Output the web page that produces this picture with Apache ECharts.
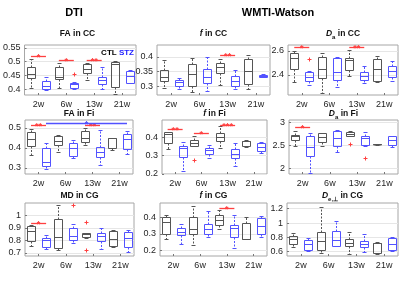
<!DOCTYPE html>
<html>
<head>
<meta charset="utf-8">
<script src="https://cdn.jsdelivr.net/npm/echarts@6/dist/echarts.min.js"></script>
<style>
  html, body { margin: 0; padding: 0; background: #fff; }
  #chart { width: 400px; height: 285px; }
</style>
</head>
<body>
<div id="chart"></div>
<script>
const weeks = ['2w', '6w', '13w', '21w'];

// boxes are [min, q1, median, q3, max] per week; outliers [week, value]; sig [week, y, stars]
const faCC_ctl = [[0.405, 0.44, 0.455, 0.48, 0.51], [0.405, 0.437, 0.445, 0.48, 0.495], [0.435, 0.458, 0.474, 0.49, 0.495], [0.385, 0.41, 0.49, 0.5, 0.502]];
const faCC_stz = [[0.398, 0.40, 0.413, 0.43, 0.445], [0.40, 0.407, 0.418, 0.424, 0.428], [0.40, 0.42, 0.433, 0.445, 0.48], [0.423, 0.425, 0.447, 0.468, 0.47]];
const faCC_outStz = [[1, 0.455]];
const faCC_sig = [[0, 0.52, '*'], [1, 0.505, '*'], [2, 0.505, '**']];
const faCC_ticks = [0.4, 0.45, 0.5, 0.55];
const faCC_range = [0.38, 0.56];

const fCC_ctl = [[0.293, 0.318, 0.332, 0.355, 0.39], [0.28, 0.3, 0.34, 0.375, 0.395], [0.304, 0.344, 0.366, 0.38, 0.393], [0.29, 0.308, 0.35, 0.394, 0.407]];
const fCC_stz = [[0.29, 0.302, 0.313, 0.32, 0.328], [0.285, 0.31, 0.332, 0.358, 0.4], [0.29, 0.302, 0.317, 0.333, 0.355], [0.33, 0.331, 0.335, 0.338, 0.34]];
const fCC_sig = [[2, 0.405, '**']];
const fCC_ticks = [0.3, 0.35, 0.4];
const fCC_range = [0.27, 0.44];

const daCC_ctl = [[2.34, 2.447, 2.545, 2.58, 2.6], [2.25, 2.375, 2.445, 2.55, 2.585], [2.39, 2.44, 2.525, 2.54, 2.61], [2.34, 2.35, 2.445, 2.53, 2.56]];
const daCC_stz = [[2.315, 2.35, 2.38, 2.42, 2.43], [2.3, 2.36, 2.42, 2.54, 2.55], [2.335, 2.36, 2.39, 2.42, 2.475], [2.35, 2.378, 2.43, 2.47, 2.515]];
const daCC_outStz = [[0, 2.53]];
const daCC_sig = [[0, 2.63, '*'], [2, 2.63, '**']];
const daCC_ticks = [2.4, 2.6];
const daCC_range = [2.23, 2.65];

const faFi_ctl = [[0.365, 0.412, 0.445, 0.48, 0.497], [0.38, 0.415, 0.436, 0.462, 0.465], [0.415, 0.432, 0.452, 0.487, 0.5], [0.39, 0.398, 0.448, 0.45, 0.45]];
const faFi_stz = [[0.293, 0.31, 0.328, 0.4, 0.423], [0.35, 0.36, 0.402, 0.425, 0.44], [0.313, 0.356, 0.381, 0.407, 0.49], [0.37, 0.395, 0.444, 0.471, 0.483]];
const faFi_sig = [[0, 0.515, '**'], [2, 0.515, '**']];
const faFi_sigStz = [[0, 3, 0.525, '*']]; // [fromWeek, toWeek, y, stars] between STZ groups
const faFi_ticks = [0.3, 0.4, 0.5];
const faFi_range = [0.27, 0.54];

const fFi_ctl = [[0.335, 0.372, 0.42, 0.428, 0.43], [0.352, 0.353, 0.372, 0.385, 0.41], [0.344, 0.378, 0.4, 0.422, 0.46], [0.347, 0.352, 0.38, 0.383, 0.385]];
const fFi_stz = [[0.215, 0.292, 0.343, 0.353, 0.375], [0.288, 0.31, 0.33, 0.34, 0.357], [0.245, 0.288, 0.31, 0.335, 0.367], [0.317, 0.325, 0.348, 0.372, 0.377]];
const fFi_outCtl = [[1, 0.278]];
const fFi_sig = [[0, 0.447, '**'], [1, 0.424, '*'], [2, 0.47, '***']];
const fFi_ticks = [0.2, 0.3, 0.4];
const fFi_range = [0.2, 0.495];

const daFi_ctl = [[2.49, 2.63, 2.7, 2.74, 2.81], [2.49, 2.57, 2.68, 2.77, 2.775], [2.7, 2.705, 2.745, 2.79, 2.81], [2.52, 2.525, 2.53, 2.535, 2.54]];
const daFi_stz = [[1.91, 2.265, 2.47, 2.7, 2.77], [2.36, 2.49, 2.665, 2.82, 2.85], [2.5, 2.51, 2.67, 2.7, 2.8], [2.47, 2.515, 2.63, 2.7, 2.7]];
const daFi_outCtl = [[2, 2.53]];
const daFi_outStz = [[2, 2.24]];
const daFi_sig = [[0, 2.91, '*']];
const daFi_ticks = [2, 2.5, 3];
const daFi_range = [1.88, 3.06];

const mdCG_ctl = [[0.752, 0.795, 0.873, 0.912, 0.92], [0.72, 0.74, 0.827, 0.973, 1.08], [0.823, 0.828, 0.852, 0.858, 0.86], [0.745, 0.755, 0.808, 0.875, 0.885]];
const mdCG_stz = [[0.728, 0.748, 0.805, 0.82, 0.84], [0.778, 0.805, 0.835, 0.9, 0.933], [0.733, 0.795, 0.833, 0.858, 0.9], [0.707, 0.748, 0.82, 0.867, 0.88]];
const mdCG_outCtl = [[2, 0.947], [2, 0.72]];
const mdCG_outStz = [[1, 1.08]];
const mdCG_sig = [[0, 0.94, '*']];
const mdCG_ticks = [0.7, 0.8, 0.9, 1];
const mdCG_range = [0.675, 1.1];

const fCG_ctl = [[0.27, 0.3, 0.373, 0.405, 0.415], [0.23, 0.3, 0.332, 0.402, 0.47], [0.332, 0.353, 0.385, 0.417, 0.445], [0.27, 0.272, 0.272, 0.37, 0.405]];
const fCG_stz = [[0.24, 0.294, 0.315, 0.336, 0.36], [0.28, 0.3, 0.332, 0.364, 0.438], [0.215, 0.28, 0.335, 0.353, 0.418], [0.28, 0.3, 0.35, 0.396, 0.413]];
const fCG_sig = [[2, 0.46, '*']];
const fCG_ticks = [0.2, 0.3, 0.4];
const fCG_range = [0.165, 0.49];

const dePerpCG_ctl = [[0.665, 0.704, 0.784, 0.822, 0.855], [0.585, 0.618, 0.75, 0.87, 1.22], [0.57, 0.68, 0.727, 0.784, 0.88], [0.565, 0.585, 0.725, 0.727, 0.73]];
const dePerpCG_stz = [[0.61, 0.618, 0.712, 0.76, 0.785], [0.68, 0.68, 0.76, 0.893, 1.025], [0.6, 0.665, 0.713, 0.75, 0.845], [0.61, 0.618, 0.705, 0.79, 0.8]];
const dePerpCG_ticks = [0.6, 0.8, 1, 1.2];
const dePerpCG_range = [0.54, 1.28];

const panels = [
  { title: 'FA in CC', ctl: faCC_ctl, stz: faCC_stz, outCtl: [], outStz: faCC_outStz, sig: faCC_sig, sigStz: [], ticks: faCC_ticks, range: faCC_range },
  { title: '{it|f} in CC', ctl: fCC_ctl, stz: fCC_stz, outCtl: [], outStz: [], sig: fCC_sig, sigStz: [], ticks: fCC_ticks, range: fCC_range },
  { title: '{it|D}{sub|a} in CC', ctl: daCC_ctl, stz: daCC_stz, outCtl: [], outStz: daCC_outStz, sig: daCC_sig, sigStz: [], ticks: daCC_ticks, range: daCC_range },
  { title: 'FA in Fi', ctl: faFi_ctl, stz: faFi_stz, outCtl: [], outStz: [], sig: faFi_sig, sigStz: faFi_sigStz, ticks: faFi_ticks, range: faFi_range },
  { title: '{it|f} in Fi', ctl: fFi_ctl, stz: fFi_stz, outCtl: fFi_outCtl, outStz: [], sig: fFi_sig, sigStz: [], ticks: fFi_ticks, range: fFi_range },
  { title: '{it|D}{sub|a} in Fi', ctl: daFi_ctl, stz: daFi_stz, outCtl: daFi_outCtl, outStz: daFi_outStz, sig: daFi_sig, sigStz: [], ticks: daFi_ticks, range: daFi_range },
  { title: 'MD in CG', ctl: mdCG_ctl, stz: mdCG_stz, outCtl: mdCG_outCtl, outStz: mdCG_outStz, sig: mdCG_sig, sigStz: [], ticks: mdCG_ticks, range: mdCG_range },
  { title: '{it|f} in CG', ctl: fCG_ctl, stz: fCG_stz, outCtl: [], outStz: [], sig: fCG_sig, sigStz: [], ticks: fCG_ticks, range: fCG_range },
  { title: '{it|D}{sub|e,⊥} in CG', ctl: dePerpCG_ctl, stz: dePerpCG_stz, outCtl: [], outStz: [], sig: [], sigStz: [], ticks: dePerpCG_ticks, range: dePerpCG_range }
];

// plot boxes in px: left, top, width, height
const layout = [
  [19, 45, 117, 50], [157, 45, 113, 50], [288, 45, 110, 50],
  [25, 120, 108, 54], [162, 120, 105, 54], [289, 120, 109, 54],
  [25, 203, 109, 53], [160, 203, 107, 53], [287, 203, 111, 53]
];
const titleY = [34, 34, 34, 114, 114, 114, 196, 196, 196];

const FONT = 'Liberation Sans, Arial, sans-serif';
const CTL_COLOR = '#555555';
const STZ_COLOR = '#5252ff';
const RED = '#ff4040';
const OFF = 7.5;   // half distance between CTL and STZ boxes
const HW = 4;      // half box width

function snap(v) { return Math.round(v) + 0.5; }

function boxRender(offset, color) {
  return function (params, api) {
    const i = api.value(0);
    const yMin = snap(api.coord([i, api.value(1)])[1]);
    const yQ1 = snap(api.coord([i, api.value(2)])[1]);
    const yMed = snap(api.coord([i, api.value(3)])[1]);
    const yQ3 = snap(api.coord([i, api.value(4)])[1]);
    const yMax = snap(api.coord([i, api.value(5)])[1]);
    const x = snap(api.coord([i, api.value(1)])[0] + offset);
    const solid = { stroke: color, lineWidth: 1 };
    const dashed = { stroke: color, lineWidth: 1, lineDash: [2, 1.5] };
    return {
      type: 'group',
      children: [
        { type: 'line', shape: { x1: x, y1: yQ3, x2: x, y2: yMax }, style: dashed },
        { type: 'line', shape: { x1: x, y1: yQ1, x2: x, y2: yMin }, style: dashed },
        { type: 'line', shape: { x1: x - 2, y1: yMax, x2: x + 2, y2: yMax }, style: solid },
        { type: 'line', shape: { x1: x - 2, y1: yMin, x2: x + 2, y2: yMin }, style: solid },
        { type: 'rect', shape: { x: x - HW, y: yQ3, width: 2 * HW, height: Math.max(yQ1 - yQ3, 0.5) }, style: { stroke: color, fill: 'none', lineWidth: 1 } },
        { type: 'line', shape: { x1: x - HW, y1: yMed, x2: x + HW, y2: yMed }, style: solid }
      ]
    };
  };
}

function outlierRender(params, api) {
  const p = api.coord([api.value(0), api.value(1)]);
  const x = snap(p[0] + api.value(2) * OFF);
  const y = snap(p[1]);
  const st = { stroke: RED, lineWidth: 1 };
  return {
    type: 'group',
    children: [
      { type: 'line', shape: { x1: x - 2, y1: y, x2: x + 2, y2: y }, style: st },
      { type: 'line', shape: { x1: x, y1: y - 2, x2: x, y2: y + 2 }, style: st }
    ]
  };
}

function sigRender(stars, color) {
  return function (params, api) {
    const a = api.coord([api.value(0), api.value(2)]);
    const b = api.coord([api.value(1), api.value(2)]);
    const x1 = a[0] + api.value(3) * OFF;
    const x2 = b[0] + OFF;
    const y = snap(a[1]);
    return {
      type: 'group',
      children: [
        { type: 'line', shape: { x1: x1, y1: y, x2: x2, y2: y }, style: { stroke: color, lineWidth: 1.3 } },
        { type: 'text', x: (x1 + x2) / 2, y: y + 1, style: { text: stars[params.dataIndex], fill: color, fontSize: 9, fontWeight: 'bold', fontFamily: FONT, align: 'center', verticalAlign: 'middle' } }
      ]
    };
  };
}

const grid = [], xAxis = [], yAxis = [], series = [], graphic = [];

panels.forEach(function (p, k) {
  const L = layout[k];
  grid.push({ left: L[0], top: L[1], width: L[2], height: L[3], show: true, borderColor: '#a6a6a6', borderWidth: 1 });
  xAxis.push({
    type: 'category', gridIndex: k, data: weeks,
    axisLine: { show: false },
    axisTick: { show: true, inside: true, length: 2, alignWithLabel: true, lineStyle: { color: '#777' } },
    axisLabel: { fontSize: 9, color: '#262626', margin: 5, fontFamily: FONT },
    splitLine: { show: false }
  });
  yAxis.push({
    type: 'value', gridIndex: k, min: p.range[0], max: p.range[1],
    axisLine: { show: false },
    axisTick: { show: true, inside: true, length: 2, customValues: p.ticks, lineStyle: { color: '#777' } },
    axisLabel: { customValues: p.ticks, fontSize: 9, color: '#262626', margin: 4, fontFamily: FONT },
    splitLine: { show: true, lineStyle: { color: '#e6e6e6', width: 1 } }
  });

  series.push({
    type: 'custom', xAxisIndex: k, yAxisIndex: k, clip: false,
    renderItem: boxRender(-OFF, CTL_COLOR),
    data: p.ctl.map(function (b, i) { return [i].concat(b); })
  });
  series.push({
    type: 'custom', xAxisIndex: k, yAxisIndex: k, clip: false,
    renderItem: boxRender(OFF, STZ_COLOR),
    data: p.stz.map(function (b, i) { return [i].concat(b); })
  });
  const outs = p.outCtl.map(function (o) { return [o[0], o[1], -1]; })
    .concat(p.outStz.map(function (o) { return [o[0], o[1], 1]; }));
  if (outs.length) {
    series.push({ type: 'custom', xAxisIndex: k, yAxisIndex: k, clip: false, renderItem: outlierRender, data: outs });
  }
  if (p.sig.length) {
    series.push({
      type: 'custom', xAxisIndex: k, yAxisIndex: k, clip: false,
      renderItem: sigRender(p.sig.map(function (s) { return s[2]; }), RED),
      data: p.sig.map(function (s) { return [s[0], s[0], s[1], -1]; })
    });
  }
  if (p.sigStz.length) {
    series.push({
      type: 'custom', xAxisIndex: k, yAxisIndex: k, clip: false,
      renderItem: sigRender(p.sigStz.map(function (s) { return s[3]; }), STZ_COLOR),
      data: p.sigStz.map(function (s) { return [s[0], s[1], s[2], 1]; })
    });
  }

  graphic.push({
    type: 'text', x: L[0] + L[2] / 2, y: titleY[k],
    style: {
      text: p.title, fill: '#111', fontSize: 8.5, fontWeight: 'bold', fontFamily: FONT,
      align: 'center', verticalAlign: 'middle',
      rich: {
        it: { fontStyle: 'italic', fontWeight: 'bold', fontSize: 8.5, fontFamily: FONT, lineHeight: 12, verticalAlign: 'middle' },
        sub: { fontWeight: 'bold', fontSize: 6, fontFamily: FONT, lineHeight: 12, verticalAlign: 'bottom' }
      }
    }
  });
});

graphic.push({ type: 'text', x: 74, y: 13, style: { text: 'DTI', fill: '#000', fontSize: 11, fontWeight: 'bold', fontFamily: FONT, align: 'center', verticalAlign: 'middle' } });
graphic.push({ type: 'text', x: 278, y: 13, style: { text: 'WMTI-Watson', fill: '#000', fontSize: 11, fontWeight: 'bold', fontFamily: FONT, align: 'center', verticalAlign: 'middle' } });
graphic.push({
  type: 'text', x: 134, y: 53,
  style: {
    text: '{c|CTL} {s|STZ}', align: 'right', verticalAlign: 'middle', fontSize: 8, fontWeight: 'bold', fontFamily: FONT,
    rich: {
      c: { fill: '#000', fontSize: 8, fontWeight: 'bold', fontFamily: FONT },
      s: { fill: '#2020ff', fontSize: 8, fontWeight: 'bold', fontFamily: FONT }
    }
  }
});

const chart = echarts.init(document.getElementById('chart'), null, { renderer: 'canvas' });
chart.setOption({
  animation: false,
  backgroundColor: '#fff',
  grid: grid,
  xAxis: xAxis,
  yAxis: yAxis,
  series: series,
  graphic: graphic
});
</script>
</body>
</html>
